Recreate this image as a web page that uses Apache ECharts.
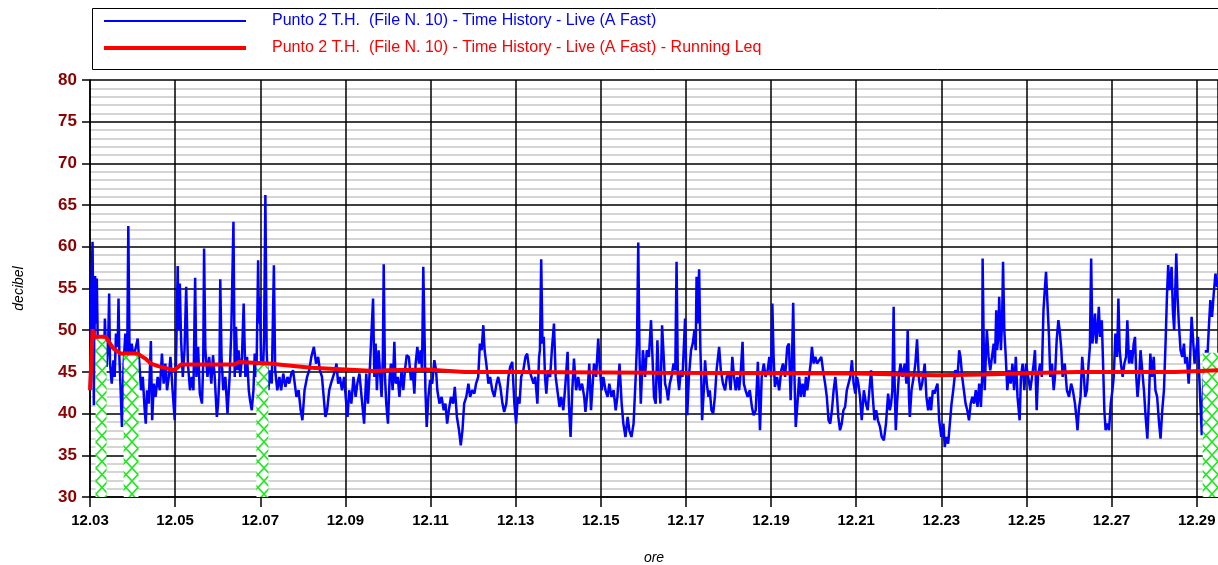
<!DOCTYPE html>
<html>
<head>
<meta charset="utf-8">
<title>Punto 2 T.H. - Time History</title>
<script src="https://cdn.jsdelivr.net/npm/echarts@6/dist/echarts.min.js"></script>
<style>
  html, body { margin: 0; padding: 0; background: #ffffff; }
  #chart { width: 1218px; height: 565px; }
</style>
</head>
<body>
<div id="chart"></div>
<script>
// minutes after 12:03 -> dB(A)
var timeHistory = [
  [0.00,43.2],[0.03,54.8],[0.06,60.6],[0.08,48.8],[0.09,41.0],[0.12,56.5],[0.14,50.8],[0.16,56.2],[0.19,46.0],[0.24,44.4],
  [0.29,48.0],[0.33,46.8],[0.35,51.4],[0.39,45.6],[0.43,49.2],[0.45,54.4],[0.47,46.0],[0.51,43.6],[0.55,46.4],[0.58,44.4],
  [0.61,49.6],[0.65,48.0],[0.67,53.8],[0.69,46.8],[0.72,42.8],[0.75,38.4],[0.79,46.0],[0.83,49.6],[0.87,44.4],[0.90,62.5],
  [0.93,46.8],[0.98,48.4],[1.02,46.8],[1.08,48.0],[1.12,49.0],[1.16,46.0],[1.20,42.8],[1.24,44.4],[1.28,40.8],[1.31,38.8],
  [1.34,42.8],[1.38,41.2],[1.43,48.7],[1.46,39.2],[1.50,43.6],[1.54,42.0],[1.59,44.4],[1.64,42.8],[1.69,47.2],[1.73,43.6],
  [1.77,46.0],[1.81,42.8],[1.85,44.4],[1.89,46.8],[1.94,42.8],[1.99,39.2],[2.03,48.8],[2.06,57.7],[2.08,50.0],[2.11,55.6],
  [2.14,48.8],[2.18,44.4],[2.22,47.6],[2.26,55.2],[2.30,46.0],[2.35,42.8],[2.39,44.4],[2.43,42.8],[2.47,56.3],[2.50,44.4],
  [2.54,48.0],[2.58,42.4],[2.63,41.2],[2.66,46.0],[2.68,59.8],[2.71,47.6],[2.76,44.4],[2.80,46.8],[2.85,43.6],[2.89,47.0],
  [2.93,44.4],[2.98,39.6],[3.01,41.2],[3.04,44.4],[3.06,56.1],[3.09,46.8],[3.13,42.8],[3.18,44.4],[3.23,40.0],[3.28,44.4],
  [3.32,50.0],[3.37,63.0],[3.40,44.4],[3.43,50.4],[3.46,45.2],[3.49,47.6],[3.53,44.4],[3.57,46.8],[3.61,53.2],[3.65,44.4],
  [3.69,46.8],[3.73,42.8],[3.76,41.6],[3.80,40.4],[3.84,42.8],[3.87,47.2],[3.91,44.4],[3.95,58.4],[3.97,50.8],[3.99,54.0],
  [4.02,46.0],[4.06,44.4],[4.09,49.2],[4.12,66.2],[4.15,47.6],[4.19,42.8],[4.23,45.2],[4.27,43.6],[4.32,57.8],[4.35,45.2],
  [4.40,42.8],[4.45,44.4],[4.49,42.8],[4.54,44.8],[4.59,43.2],[4.64,44.4],[4.68,43.6],[4.73,44.8],[4.77,45.2],[4.81,43.6],
  [4.85,42.0],[4.90,42.8],[4.95,40.4],[4.99,39.2],[5.04,42.8],[5.10,44.4],[5.15,45.2],[5.20,46.8],[5.26,48.0],[5.31,46.0],
  [5.36,46.8],[5.40,45.2],[5.45,44.4],[5.49,42.0],[5.53,39.6],[5.57,40.4],[5.62,42.8],[5.66,43.6],[5.71,44.4],[5.76,45.2],
  [5.79,46.0],[5.83,43.6],[5.87,44.4],[5.92,42.8],[5.97,44.4],[6.02,41.2],[6.05,39.6],[6.09,42.8],[6.14,41.2],[6.19,44.4],
  [6.24,42.0],[6.28,43.6],[6.33,44.8],[6.38,42.0],[6.44,38.8],[6.49,44.8],[6.53,41.2],[6.58,46.0],[6.65,53.8],[6.68,44.4],
  [6.71,48.4],[6.74,42.8],[6.78,47.6],[6.82,44.4],[6.85,42.0],[6.88,46.8],[6.90,57.9],[6.93,44.4],[6.96,41.2],[7.00,38.8],
  [7.04,44.4],[7.07,46.0],[7.11,42.8],[7.15,48.6],[7.18,43.6],[7.23,44.4],[7.27,42.0],[7.32,45.2],[7.36,42.8],[7.40,45.2],
  [7.44,47.0],[7.49,46.8],[7.54,44.0],[7.58,45.2],[7.62,42.4],[7.65,46.0],[7.69,48.0],[7.73,46.0],[7.77,47.6],[7.80,45.2],
  [7.83,57.6],[7.86,49.2],[7.88,42.8],[7.91,38.4],[7.95,42.0],[7.99,44.0],[8.04,43.6],[8.09,46.4],[8.13,45.2],[8.16,42.8],
  [8.21,41.2],[8.26,42.0],[8.31,40.4],[8.35,41.2],[8.39,38.8],[8.43,40.4],[8.48,42.0],[8.53,41.2],[8.57,43.2],[8.62,39.6],
  [8.67,38.0],[8.71,36.2],[8.75,38.0],[8.79,41.2],[8.84,42.0],[8.89,43.6],[8.93,42.0],[8.98,42.8],[9.03,42.4],[9.07,43.6],
  [9.12,44.4],[9.16,48.4],[9.20,47.6],[9.24,50.6],[9.27,47.6],[9.31,46.0],[9.36,43.6],[9.40,44.4],[9.45,42.8],[9.50,42.0],
  [9.55,43.6],[9.59,44.4],[9.64,43.2],[9.69,41.2],[9.73,40.2],[9.78,41.2],[9.83,44.4],[9.87,45.6],[9.92,46.2],[9.97,41.2],
  [10.01,38.8],[10.05,42.0],[10.09,41.2],[10.13,44.4],[10.18,45.2],[10.23,46.8],[10.27,47.2],[10.32,45.2],[10.37,44.4],[10.42,43.6],
  [10.46,44.4],[10.51,41.2],[10.55,46.8],[10.57,47.6],[10.60,58.5],[10.63,48.4],[10.66,49.2],[10.69,44.4],[10.72,42.4],[10.76,45.2],
  [10.81,44.4],[10.85,47.6],[10.90,50.8],[10.94,44.4],[10.98,42.8],[11.03,40.8],[11.07,42.0],[11.12,40.4],[11.17,43.6],[11.22,47.4],
  [11.25,41.2],[11.29,37.2],[11.33,42.8],[11.37,46.6],[11.42,42.8],[11.47,44.4],[11.51,42.8],[11.56,43.6],[11.61,42.0],[11.64,40.2],
  [11.69,42.8],[11.73,46.0],[11.77,40.4],[11.81,43.6],[11.84,46.0],[11.89,44.4],[11.94,49.0],[11.98,45.2],[12.02,42.8],[12.06,44.4],
  [12.11,42.8],[12.16,42.0],[12.20,43.6],[12.25,42.0],[12.30,42.8],[12.35,40.4],[12.39,42.0],[12.44,46.0],[12.49,41.2],[12.53,38.8],
  [12.58,37.2],[12.63,39.6],[12.67,38.0],[12.72,37.2],[12.77,38.8],[12.82,44.4],[12.85,48.4],[12.88,60.5],[12.91,46.8],[12.94,41.2],
  [12.99,47.6],[13.04,44.4],[13.08,47.6],[13.13,46.8],[13.18,51.2],[13.22,46.0],[13.25,42.0],[13.29,41.2],[13.33,48.8],[13.36,44.4],
  [13.40,41.2],[13.44,50.6],[13.47,47.6],[13.51,43.6],[13.55,42.8],[13.58,41.6],[13.62,43.6],[13.66,44.4],[13.71,46.0],[13.75,45.2],
  [13.78,58.2],[13.81,44.4],[13.84,42.8],[13.88,45.2],[13.92,44.4],[13.98,51.4],[14.01,44.4],[14.03,39.8],[14.07,44.4],[14.12,47.6],
  [14.16,48.4],[14.20,50.0],[14.23,47.6],[14.25,56.4],[14.27,50.8],[14.31,57.3],[14.34,47.6],[14.36,44.4],[14.38,39.2],[14.42,42.8],
  [14.45,46.4],[14.49,43.6],[14.53,42.0],[14.56,42.8],[14.60,40.4],[14.64,40.0],[14.68,42.0],[14.72,45.2],[14.78,48.0],[14.82,45.2],
  [14.87,43.6],[14.92,42.8],[14.96,44.4],[15.01,44.8],[15.05,42.8],[15.09,46.8],[15.13,44.4],[15.17,42.8],[15.21,44.4],[15.25,42.8],
  [15.29,45.2],[15.33,48.6],[15.36,43.6],[15.40,42.8],[15.45,42.0],[15.50,42.8],[15.55,40.8],[15.59,39.8],[15.64,40.4],[15.69,46.2],
  [15.72,41.2],[15.74,38.0],[15.78,44.4],[15.83,46.0],[15.87,44.4],[15.92,45.2],[15.96,46.8],[16.00,44.4],[16.03,53.2],[16.06,46.8],
  [16.09,43.2],[16.14,44.4],[16.19,42.8],[16.24,45.2],[16.28,46.0],[16.33,44.4],[16.38,48.0],[16.42,48.4],[16.46,41.6],[16.49,46.0],
  [16.52,53.3],[16.55,44.4],[16.58,38.4],[16.62,41.2],[16.66,44.4],[16.70,42.0],[16.74,43.6],[16.78,42.0],[16.82,44.4],[16.85,42.8],
  [16.89,44.4],[16.93,46.0],[16.96,48.0],[17.00,46.0],[17.04,46.8],[17.08,46.0],[17.13,46.4],[17.18,46.8],[17.22,45.2],[17.27,43.6],
  [17.31,42.0],[17.35,39.2],[17.39,38.8],[17.43,40.4],[17.47,42.8],[17.51,44.4],[17.55,42.0],[17.58,39.6],[17.62,38.0],[17.66,38.8],
  [17.70,40.4],[17.74,40.8],[17.78,42.8],[17.82,43.6],[17.86,44.4],[17.90,46.4],[17.94,43.6],[17.98,42.4],[18.02,44.4],[18.05,43.6],
  [18.09,42.0],[18.13,39.2],[18.18,42.8],[18.23,41.2],[18.27,40.4],[18.31,42.8],[18.35,45.2],[18.39,42.0],[18.43,39.2],[18.47,40.4],
  [18.51,39.2],[18.56,38.4],[18.60,37.2],[18.65,36.8],[18.70,38.8],[18.75,42.4],[18.79,40.4],[18.82,41.2],[18.85,42.8],[18.88,52.8],
  [18.90,44.4],[18.93,38.0],[18.96,41.2],[19.00,44.4],[19.04,46.0],[19.09,44.4],[19.14,46.0],[19.18,43.6],[19.21,50.0],[19.24,42.0],
  [19.26,39.6],[19.30,42.8],[19.35,44.4],[19.39,46.0],[19.43,48.9],[19.47,44.4],[19.51,42.8],[19.55,43.6],[19.61,46.0],[19.65,42.0],
  [19.69,40.4],[19.73,42.0],[19.76,40.4],[19.80,42.8],[19.84,42.4],[19.86,42.8],[19.91,43.6],[19.95,39.2],[20.00,37.2],[20.05,38.8],
  [20.08,36.0],[20.12,37.2],[20.16,36.4],[20.20,38.8],[20.24,41.2],[20.28,42.8],[20.33,45.2],[20.38,44.4],[20.42,47.6],[20.45,46.8],
  [20.49,44.4],[20.53,42.8],[20.57,41.2],[20.61,40.4],[20.65,39.2],[20.69,41.2],[20.73,42.0],[20.77,41.2],[20.81,42.8],[20.85,40.8],
  [20.89,43.6],[20.93,40.8],[20.96,44.4],[20.97,58.6],[21.00,46.8],[21.02,42.8],[21.05,47.6],[21.07,50.0],[21.11,46.8],[21.15,45.2],
  [21.19,46.8],[21.23,48.4],[21.26,46.0],[21.29,52.4],[21.31,47.6],[21.34,49.2],[21.36,54.0],[21.40,47.6],[21.43,51.6],[21.45,58.2],
  [21.48,50.0],[21.51,47.2],[21.55,42.8],[21.59,45.2],[21.63,43.6],[21.67,46.0],[21.71,42.8],[21.75,46.8],[21.79,42.0],[21.84,39.2],
  [21.87,44.4],[21.91,46.0],[21.95,42.8],[21.99,46.0],[22.04,44.4],[22.09,42.8],[22.13,44.4],[22.17,46.0],[22.20,47.6],[22.24,40.4],
  [22.27,44.4],[22.32,46.0],[22.36,44.4],[22.40,52.4],[22.43,54.8],[22.46,57.0],[22.49,53.6],[22.53,49.2],[22.56,44.4],[22.60,46.0],
  [22.64,42.8],[22.67,44.4],[22.71,48.8],[22.75,51.2],[22.78,50.0],[22.82,47.6],[22.85,44.4],[22.90,46.0],[22.95,42.8],[23.00,42.0],
  [23.05,43.6],[23.09,42.8],[23.14,41.2],[23.18,39.2],[23.20,38.0],[23.23,40.4],[23.27,42.0],[23.31,46.8],[23.35,44.4],[23.38,42.0],
  [23.42,42.8],[23.46,46.0],[23.49,48.0],[23.52,58.6],[23.55,48.4],[23.58,50.0],[23.61,52.0],[23.64,48.4],[23.67,50.0],[23.70,52.8],
  [23.73,49.2],[23.77,51.2],[23.80,46.0],[23.83,40.4],[23.86,38.0],[23.90,38.8],[23.94,38.0],[23.98,41.2],[24.02,42.8],[24.05,44.4],
  [24.09,49.6],[24.13,46.8],[24.16,53.8],[24.19,47.6],[24.22,46.0],[24.26,44.4],[24.30,46.0],[24.34,46.8],[24.37,51.2],[24.41,46.0],
  [24.45,47.6],[24.48,46.0],[24.52,48.4],[24.55,49.2],[24.58,44.4],[24.61,42.0],[24.65,44.4],[24.68,47.6],[24.72,45.2],[24.76,42.8],
  [24.80,39.6],[24.84,37.0],[24.88,42.0],[24.91,47.2],[24.95,44.4],[24.99,46.8],[25.03,42.8],[25.07,42.0],[25.11,39.2],[25.15,37.0],
  [25.19,40.4],[25.23,42.8],[25.27,48.8],[25.30,54.0],[25.33,57.8],[25.36,54.8],[25.41,57.6],[25.44,52.4],[25.47,50.0],[25.52,59.2],
  [25.55,54.0],[25.58,50.8],[25.62,47.6],[25.66,46.8],[25.70,48.4],[25.73,46.0],[25.77,46.8],[25.81,43.6],[25.84,46.0],[25.88,51.6],
  [25.91,49.2],[25.95,46.0],[25.99,47.6],[26.03,49.2],[26.06,44.4],[26.09,40.8],[26.12,37.4],[26.15,42.8],[26.19,46.0],[26.22,47.6],
  [26.25,46.8],[26.29,50.8],[26.32,53.6],[26.36,51.6],[26.40,54.4],[26.44,56.8],[26.48,55.2],[26.50,56.0]
];

// running Leq, minutes after 12:03 -> dB(A)
var runningLeq = [
  [0.00,42.8],[0.03,46.0],[0.06,50.1],[0.10,49.2],[0.37,49.2],[0.55,47.8],[0.72,47.2],[1.12,47.2],[1.30,46.6],[1.43,46.0],
  [1.60,45.7],[1.98,45.2],[2.14,45.9],[3.40,45.9],[3.50,46.2],[4.20,46.0],[4.60,45.8],[5.20,45.5],[6.00,45.3],[6.70,45.1],
  [7.00,45.2],[7.90,45.3],[8.80,45.0],[10.00,45.0],[13.30,44.9],[16.50,44.85],[18.00,44.8],[19.90,44.6],[21.00,44.7],[22.40,44.9],
  [23.20,45.0],[25.50,45.0],[26.50,45.2]
];

// excluded (hatched) periods
var hatchFrom = [0.13, 0.79, 3.91, 26.14];
var hatchTo   = [0.39, 1.14, 4.19, 26.50];
var hatchTop  = [49.0, 47.2, 45.8, 47.3];

var yMin = 30, yMax = 80, yStep = 5;
var xMax = 26.5, xStep = 2;
var startMinute = 3;

var nameTH  = 'Punto 2 T.H.  (File N. 10) - Time History - Live (A Fast)';
var nameLeq = 'Punto 2 T.H.  (File N. 10) - Time History - Live (A Fast) - Running Leq';

// green cross hatch
function makeHatch() {
  var c = document.createElement('canvas');
  c.width = 12; c.height = 13;
  var g = c.getContext('2d');
  g.fillStyle = '#ffffff';
  g.fillRect(0, 0, 12, 13);
  g.strokeStyle = '#22e622';
  g.lineWidth = 1.6;
  g.beginPath();
  g.moveTo(0, 0); g.lineTo(12, 13);
  g.moveTo(12, 0); g.lineTo(0, 13);
  g.stroke();
  return c;
}

var hatchAreas = hatchFrom.map(function (t, i) {
  return [{ xAxis: t, yAxis: yMin }, { xAxis: hatchTo[i], yAxis: hatchTop[i] }];
});

var font = 'Arial, "Liberation Sans", sans-serif';

var chart = echarts.init(document.getElementById('chart'));

var option = {
  backgroundColor: '#ffffff',
  animation: false,
  graphic: [{
    type: 'rect',
    shape: { x: 92.5, y: 8.5, width: 1140, height: 61 },
    style: { fill: 'none', stroke: '#000000', lineWidth: 1 },
    z: 0
  }],
  legend: {
    orient: 'vertical',
    left: 97,
    top: 8,
    itemWidth: 142,
    itemHeight: 14,
    itemGap: 11,
    itemStyle: { opacity: 0 },
    data: [
      { name: nameTH, textStyle: { color: '#0000ff' }, lineStyle: { width: 2 } },
      { name: nameLeq, textStyle: { color: '#ff0000' }, lineStyle: { width: 4 } }
    ],
    textStyle: { fontFamily: font, fontSize: 16, padding: [0, 0, 0, 21] }
  },
  grid: { left: 90, right: 0, top: 80, bottom: 68, outerBoundsMode: 'none' },
  xAxis: {
    type: 'value',
    min: 0,
    max: xMax,
    interval: xStep,
    name: 'ore',
    nameLocation: 'middle',
    nameGap: 54,
    nameTextStyle: { fontFamily: font, fontStyle: 'italic', fontSize: 14, color: '#000' },
    axisLine: { onZero: false, lineStyle: { color: '#000', width: 1.5 } },
    axisTick: { show: true, length: 10, lineStyle: { color: '#000', width: 1.5 } },
    axisLabel: {
      showMaxLabel: false,
      margin: 16,
      fontFamily: font,
      fontWeight: 'bold',
      fontSize: 15,
      color: '#000',
      formatter: function (v) {
        var m = startMinute + v;
        return '12.' + (m < 10 ? '0' + m : m);
      }
    },
    splitLine: { show: true, lineStyle: { color: '#000', width: 1.5 } }
  },
  yAxis: {
    type: 'value',
    min: yMin,
    max: yMax,
    interval: yStep,
    name: 'decibel',
    nameLocation: 'middle',
    nameGap: 64,
    nameRotate: 90,
    nameTextStyle: { fontFamily: font, fontStyle: 'italic', fontSize: 14, color: '#000' },
    axisLine: { show: true, lineStyle: { color: '#000', width: 1.5 } },
    axisTick: { show: true, length: 8, lineStyle: { color: '#000', width: 1.5 } },
    axisLabel: {
      margin: 13,
      fontFamily: font,
      fontWeight: 'bold',
      fontSize: 17,
      color: '#8b0000'
    },
    splitLine: { show: true, lineStyle: { color: '#000', width: 1.5 } },
    minorTick: { show: false, splitNumber: 5 },
    minorSplitLine: { show: true, lineStyle: { color: '#c8c8c8', width: 1.5 } }
  },
  series: [{
    name: nameTH,
    type: 'line',
    symbol: 'none',
    z: 2,
    lineStyle: { color: '#0000ff', width: 2.5 },
    itemStyle: { color: '#0000ff' },
    data: timeHistory
  }, {
    name: 'hatch',
    type: 'line',
    symbol: 'none',
    data: [],
    z: 3,
    markArea: {
      silent: true,
      z: 3,
      itemStyle: { color: { image: makeHatch(), repeat: 'repeat' } },
      data: hatchAreas
    }
  }, {
    name: nameLeq,
    type: 'line',
    symbol: 'none',
    z: 4,
    lineStyle: { color: '#ff0000', width: 4 },
    itemStyle: { color: '#ff0000' },
    data: runningLeq
  }]
};

chart.setOption(option);
</script>
</body>
</html>
